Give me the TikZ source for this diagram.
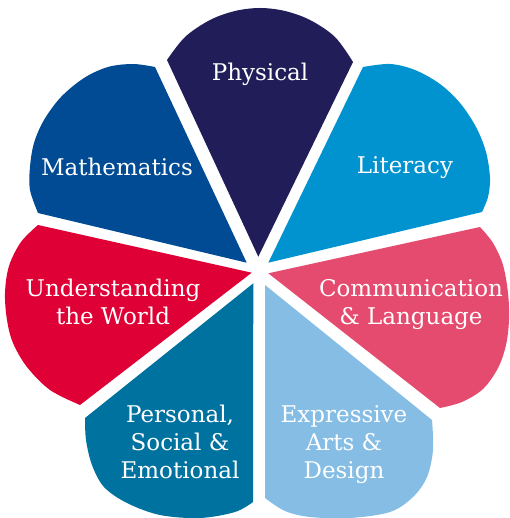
\documentclass[tikz,border=0pt]{standalone}
\usepackage{fontspec}
\setmainfont{DejaVu Serif}
\begin{document}
\begin{tikzpicture}[x=1pt,y=-1pt,
  petal/.style={line join=round},
  outer/.style={smooth,tension=0.55},
  lab/.style={text=white,align=center,font=\fontsize{23}{28}\selectfont,inner sep=0pt,anchor=base}]
\definecolor{cPhys}{HTML}{211D59}
\definecolor{cLit}{HTML}{0093D0}
\definecolor{cCom}{HTML}{E54B6E}
\definecolor{cExp}{HTML}{85BDE5}
\definecolor{cPer}{HTML}{00729F}
\definecolor{cUnd}{HTML}{DF0036}
\definecolor{cMat}{HTML}{004B93}
\useasboundingbox (0,0) rectangle (509,518);
\clip (0,0) rectangle (509,518);
% tips
\coordinate (tPhys) at (258.3,256.7);
\coordinate (tLit) at (268.3,262.7);
\coordinate (tCom) at (268.3,273.3);
\coordinate (tExp) at (265,285);
\coordinate (tPer) at (253.3,283.3);
\coordinate (tUnd) at (251.7,272.7);
\coordinate (tMat) at (246.7,262.7);
% petals
\fill[petal,cPhys] (tPhys) -- plot[outer] coordinates {(167,60) (185,37) (210,20) (235,11) (260,8) (285,11) (310,20) (335,37) (353,62)} -- cycle;
\fill[petal,cLit] (tLit) -- plot[outer] coordinates {(363,67) (390,64) (415,70) (440,84) (460,103) (476,127) (486,152) (490,178) (488,197) (482,212)} -- cycle;
\fill[petal,cCom] (tCom) -- plot[outer] coordinates {(480,227) (493,243) (503,265) (508,293) (509,320) (506,345) (498,368) (483,389) (462,402) (440,408)} -- cycle;
\fill[petal,cExp] (tExp) -- plot[outer] coordinates {(432,420) (433,450) (427,477) (413,497) (390,512) (350,518) (310,517) (285,511) (265,498)} -- cycle;
\fill[petal,cPer] (tPer) -- plot[outer] coordinates {(253,502) (235,512) (200,518) (160,515) (127,503) (104,487) (92,465) (86,440) (85,418)} -- cycle;
\fill[petal,cUnd] (tUnd) -- plot[outer] coordinates {(80,405) (50,390) (27,367) (13,343) (7,320) (5,293) (9,266) (21,242) (38,225)} -- cycle;
\fill[petal,cMat] (tMat) -- plot[outer] coordinates {(38,213) (30,190) (30,167) (34,143) (44,120) (61,97) (84,78) (108,67) (133,64) (155,67)} -- cycle;
% labels
\node[lab] (lPhys) at (260,81) {Physical};
\node[lab] (lLit) at (405,174) {Literacy};
\node[lab] (lMat) at (117,176) {Mathematics};
\node[lab] (lCom) at (411,324) {Communication\\\& Language};
\node[lab] (lUnd) at (113,324) {Understanding\\the World};
\node[lab] (lPer) at (180,478) {Personal,\\Social \&\\Emotional};
\node[lab] (lExp) at (344,478) {Expressive\\Arts \&\\Design};
\end{tikzpicture}
\end{document}
